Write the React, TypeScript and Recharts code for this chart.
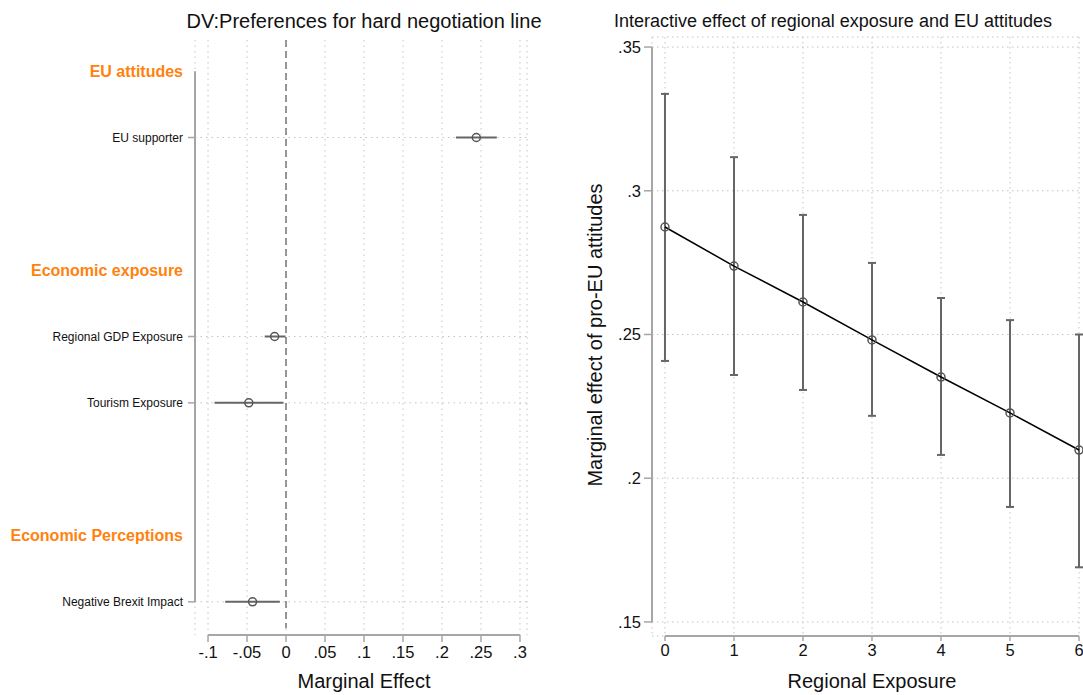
import React from 'react';
import {
  ScatterChart, Scatter, LineChart, Line, XAxis, YAxis, CartesianGrid,
  ReferenceLine, ErrorBar,
} from 'recharts';

// left panel: coefficient plot
const rowLabels = [
  'EU attitudes', 'EU supporter', '', 'Economic exposure', 'Regional GDP Exposure',
  'Tourism Exposure', '', 'Economic Perceptions', 'Negative Brexit Impact',
];
const headerRows = [0, 3, 7];
const coefRows = [1, 4, 5, 8];
const coefEst = [0.244, -0.0146, -0.0477, -0.0429];
const coefLo = [0.218, -0.0273, -0.0917, -0.078];
const coefHi = [0.2703, -0.0005, -0.0035, -0.0079];
const marginalTicks = [-0.1, -0.05, 0, 0.05, 0.1, 0.15, 0.2, 0.25, 0.3];

// right panel: marginal effect by regional exposure
const exposure = [0, 1, 2, 3, 4, 5, 6];
const effect = [0.2874, 0.2738, 0.2613, 0.2481, 0.2352, 0.2227, 0.2098];
const effectLo = [0.2408, 0.2359, 0.2307, 0.2217, 0.2081, 0.19, 0.169];
const effectHi = [0.3337, 0.3117, 0.2916, 0.2749, 0.2627, 0.255, 0.25];
const effectTicks = [0.15, 0.2, 0.25, 0.3, 0.35];

const orange = '#ff820f';
const gridColor = '#c4c4c4';
const axisColor = '#a6a6a6';
const font = '"Liberation Sans", Arial, Helvetica, sans-serif';
const tickFont = 16.5;

const coefData = coefRows.map((row, i) => ({
  row,
  est: coefEst[i],
  err: [coefEst[i] - coefLo[i], coefHi[i] - coefEst[i]],
}));

const effectData = exposure.map((x, i) => ({
  x,
  me: effect[i],
  err: [effect[i] - effectLo[i], effectHi[i] - effect[i]],
}));

const fmt = (v: number) => (v === 0 ? '0' : String(v).replace(/^(-?)0\./, '$1.'));

function RowTick(props: any) {
  const { x, y, payload } = props;
  const row = payload.value;
  const isHeader = headerRows.includes(row);
  const isCoef = coefRows.includes(row);
  return (
    <g>
      {isCoef && <line x1={x + 5} x2={x + 12} y1={y} y2={y} stroke={axisColor} strokeWidth={1.5} />}
      <text
        x={x}
        y={y}
        dy="0.35em"
        textAnchor="end"
        fontSize={isHeader ? 16 : 12}
        fontWeight={isHeader ? 'bold' : 'normal'}
        fill={isHeader ? orange : '#111'}
      >
        {rowLabels[row]}
      </text>
    </g>
  );
}

const HollowDot = (props: any) => {
  const { cx, cy } = props;
  if (cx == null || cy == null) return null;
  return <circle cx={cx} cy={cy} r={4} fill="none" stroke="#555" strokeWidth={1.5} />;
};

function CoefPlot() {
  return (
    <ScatterChart width={545} height={695} margin={{ top: 40, right: 18, bottom: 0, left: 0 }}>
      <CartesianGrid horizontal={false} stroke={gridColor} strokeDasharray="1.5 4" />
      <XAxis
        type="number"
        dataKey="est"
        domain={[-0.1167, 0.309]}
        ticks={marginalTicks}
        tickFormatter={fmt}
        axisLine={false}
        tickLine={{ stroke: axisColor, strokeWidth: 1.5 }}
        tickSize={7}
        tickMargin={4}
        height={60}
        tick={{ fontSize: tickFont, fill: '#111' }}
        interval={0}
      />
      <YAxis
        type="number"
        dataKey="row"
        domain={[-0.47, 8.5]}
        reversed
        ticks={rowLabels.map((_, i) => i)}
        tick={<RowTick />}
        axisLine={false}
        tickLine={false}
        tickSize={7}
        tickMargin={5}
        width={195}
        interval={0}
      />
      {coefRows.map((r) => (
        <ReferenceLine key={r} y={r} stroke={gridColor} strokeDasharray="1.5 4" />
      ))}
      <ReferenceLine
        segment={[{ x: 0, y: -0.47 }, { x: 0, y: 8.4 }]}
        stroke="#777"
        strokeWidth={1.5}
        strokeDasharray="7 4"
      />
      <ReferenceLine
        segment={[{ x: -0.1167, y: 0 }, { x: -0.1167, y: 8 }]}
        stroke={axisColor}
        strokeWidth={2}
      />
      <ReferenceLine
        segment={[{ x: -0.1, y: 8.5 }, { x: 0.3, y: 8.5 }]}
        stroke={axisColor}
        strokeWidth={2}
      />
      <Scatter data={coefData} shape={<HollowDot />} isAnimationActive={false}>
        <ErrorBar dataKey="err" direction="x" width={0} stroke="#666" strokeWidth={2} />
      </Scatter>
    </ScatterChart>
  );
}

function EffectPlot() {
  return (
    <LineChart width={538} height={695} data={effectData} margin={{ top: 37, right: 4, bottom: 0, left: 0 }}>
      <CartesianGrid stroke={gridColor} strokeDasharray="1.5 3.5" />
      <XAxis
        type="number"
        dataKey="x"
        domain={[-0.188, 6]}
        ticks={exposure}
        axisLine={false}
        tickLine={{ stroke: axisColor, strokeWidth: 1.5 }}
        tickSize={5}
        tickMargin={3}
        height={59}
        tick={{ fontSize: tickFont, fill: '#111' }}
        interval={0}
      />
      <YAxis
        type="number"
        domain={[0.1451, 0.3535]}
        ticks={effectTicks}
        tickFormatter={fmt}
        axisLine={false}
        tickLine={{ stroke: axisColor, strokeWidth: 1.5 }}
        tickSize={8}
        tickMargin={3}
        width={107}
        tick={{ fontSize: tickFont, fill: '#111' }}
        interval={0}
      />
      <ReferenceLine
        segment={[{ x: -0.188, y: 0.15 }, { x: -0.188, y: 0.35 }]}
        stroke={axisColor}
        strokeWidth={2}
      />
      <ReferenceLine
        segment={[{ x: 0, y: 0.1451 }, { x: 6, y: 0.1451 }]}
        stroke={axisColor}
        strokeWidth={2}
      />
      <Line dataKey="me" stroke="none" dot={false} activeDot={false} isAnimationActive={false}>
        <ErrorBar dataKey="err" direction="y" width={4} stroke="#666" strokeWidth={2} />
      </Line>
      <Line
        type="linear"
        dataKey="me"
        stroke="#000"
        strokeWidth={1.5}
        dot={<HollowDot />}
        activeDot={false}
        isAnimationActive={false}
      />
    </LineChart>
  );
}

const textStyle: React.CSSProperties = {
  position: 'absolute',
  whiteSpace: 'nowrap',
  lineHeight: 1,
  color: '#111',
  transform: 'translate(-50%, -50%)',
};

export default function App() {
  return (
    <div
      style={{
        position: 'absolute',
        left: 0,
        top: 0,
        width: 1083,
        height: 695,
        overflow: 'hidden',
        background: '#fff',
        fontFamily: font,
      }}
    >
      <div style={{ position: 'absolute', left: 0, top: 0 }}>
        <CoefPlot />
      </div>
      <div style={{ position: 'absolute', left: 545, top: 0 }}>
        <EffectPlot />
      </div>
      <div style={{ ...textStyle, left: 364, top: 21, fontSize: 20 }}>
        DV:Preferences for hard negotiation line
      </div>
      <div style={{ ...textStyle, left: 833, top: 21, fontSize: 18 }}>
        Interactive effect of regional exposure and EU attitudes
      </div>
      <div style={{ ...textStyle, left: 364, top: 681, fontSize: 20 }}>Marginal Effect</div>
      <div style={{ ...textStyle, left: 872, top: 681, fontSize: 20 }}>Regional Exposure</div>
      <div
        style={{
          ...textStyle,
          left: 595,
          top: 335,
          fontSize: 20,
          transform: 'translate(-50%, -50%) rotate(-90deg)',
        }}
      >
        Marginal effect of pro-EU attitudes
      </div>
    </div>
  );
}
